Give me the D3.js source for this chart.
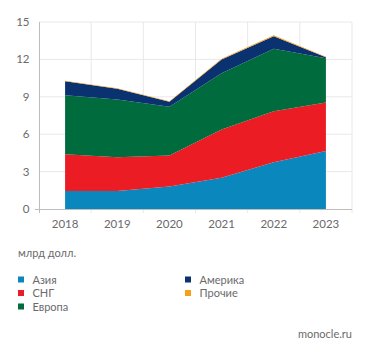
<!DOCTYPE html>
<html><head><meta charset="utf-8">
<script src="https://cdn.jsdelivr.net/npm/d3@7"></script>
<style>
html,body{margin:0;padding:0;background:#fff;}
svg{display:block;font-family:Lato,"Open Sans",sans-serif;}
</style></head>
<body><svg id="c" width="371" height="356"></svg>
<script>
const years = ["2018","2019","2020","2021","2022","2023"];
const seriesNames = ["Азия","СНГ","Европа","Америка","Прочие"];
const asia    = [1.45, 1.45, 1.8, 2.5, 3.75, 4.65];
const cis     = [2.95, 2.7, 2.5, 3.88, 4.1, 3.9];
const europe  = [4.72, 4.63, 3.9, 4.5, 5.0, 3.55];
const america = [1.13, 0.87, 0.4, 1.12, 1.0, 0.08];
const others  = [0.04, 0.04, 0.04, 0.06, 0.09, 0.04];
const yTicks = [0, 3, 6, 9, 12, 15];
const unitLabel = "млрд долл.";
const sourceLabel = "monocle.ru";

const colors = ["#0a88be", "#ec1c24", "#006b3d", "#0b3270", "#f5a01a"];
const values = [asia, cis, europe, america, others];
const rows = years.map((y, i) => {
  const r = {year: y};
  seriesNames.forEach((s, k) => r[s] = values[k][i]);
  return r;
});

const svg = d3.select("#c");
const x = d3.scaleBand().domain(years).range([39, 352]).padding(0);
const y = d3.scaleLinear().domain([0, 15]).range([209, 22]);
const cx = d => x(d) + x.bandwidth() / 2;

// grid
const g = svg.append("g");
g.selectAll("line.h").data(yTicks.slice(1)).join("line")
  .attr("x1", 39).attr("x2", 352)
  .attr("y1", d => y(d)).attr("y2", d => y(d))
  .attr("stroke", "#e8e8e8").attr("stroke-width", 1);
const bounds = years.map(d => x(d) + x.bandwidth()).concat([]);
g.selectAll("line.v").data(bounds).join("line")
  .attr("x1", d => d).attr("x2", d => d)
  .attr("y1", 22).attr("y2", 213)
  .attr("stroke", "#e8e8e8").attr("stroke-width", 1);

// stacked areas
const stack = d3.stack().keys(seriesNames);
const layers = stack(rows);
const area = d3.area()
  .x(d => cx(d.data.year))
  .y0(d => y(d[0]))
  .y1(d => y(d[1]));
svg.append("g").selectAll("path").data(layers).join("path")
  .attr("d", area)
  .attr("fill", (d, i) => colors[i]);

// axes
const axisColor = "#bdbdbd";
svg.append("line").attr("x1", 35).attr("x2", 352).attr("y1", y(0)+0.5).attr("y2", y(0)+0.5)
  .attr("stroke", axisColor);
svg.append("line").attr("x1", 39.5).attr("x2", 39.5).attr("y1", 22).attr("y2", 213)
  .attr("stroke", axisColor);

svg.append("g").selectAll("text").data(yTicks).join("text")
  .attr("x", 29.5).attr("y", d => y(d) + 4)
  .attr("text-anchor", "end")
  .attr("font-size", 11.5).attr("fill", "#6a6a6a")
  .text(d => d);

svg.append("g").selectAll("text").data(years).join("text")
  .attr("x", d => cx(d)).attr("y", 227.5)
  .attr("text-anchor", "middle")
  .attr("font-size", 11.5).attr("fill", "#6a6a6a")
  .text(d => d);

svg.append("text").attr("x", 18).attr("y", 257)
  .attr("font-size", 11).attr("fill", "#6a6a6a").text(unitLabel);

// legend
const legPos = [[18,279.5],[18,293],[18,306.5],[185,279.5],[185,293]];
const leg = svg.append("g").selectAll("g").data(seriesNames).join("g")
  .attr("transform", (d, i) => `translate(${legPos[i][0]},${legPos[i][1]})`);
leg.append("rect").attr("x", 0).attr("y", -3).attr("width", 6).attr("height", 6)
  .attr("fill", (d, i) => colors[i]);
leg.append("text").attr("x", 14.5).attr("y", 4)
  .attr("font-size", 11).attr("fill", "#6a6a6a").text(d => d);

svg.append("text").attr("x", 352).attr("y", 338)
  .attr("text-anchor", "end")
  .attr("font-size", 11).attr("fill", "#6a6a6a").text(sourceLabel);
</script>
</body></html>
